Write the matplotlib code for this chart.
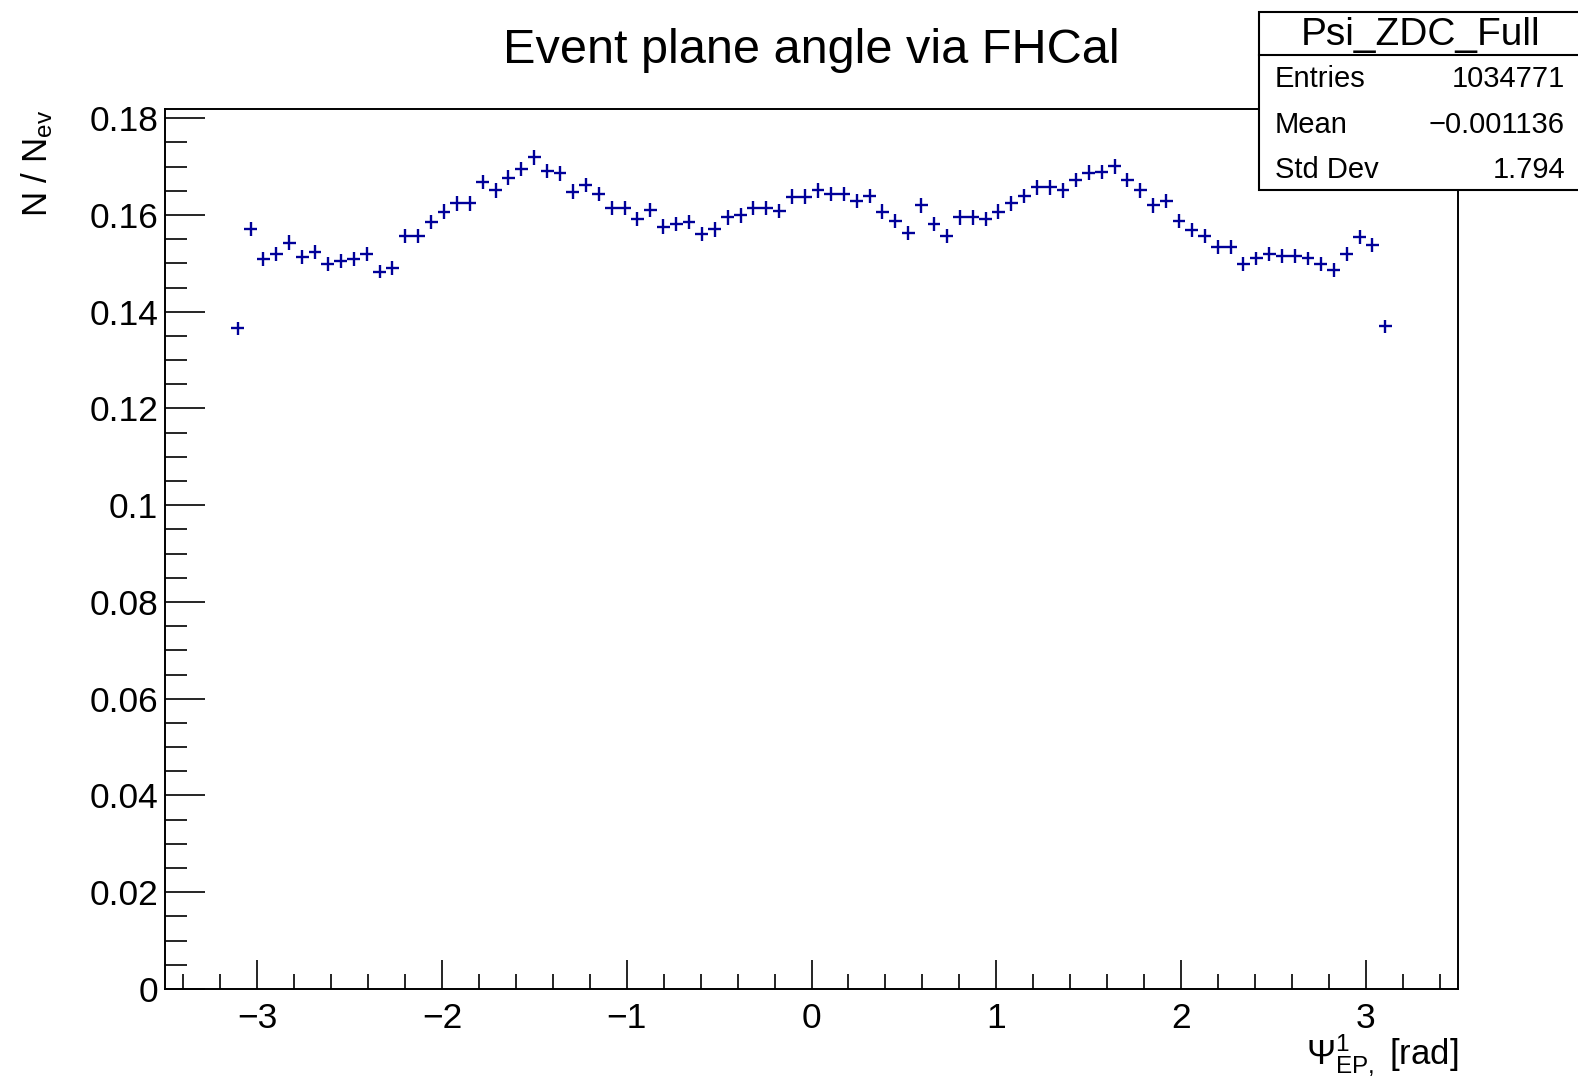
import numpy as np
import matplotlib.pyplot as plt
from matplotlib.patches import Rectangle
from matplotlib.lines import Line2D
from matplotlib.ticker import MultipleLocator, FormatStrFormatter

plt.rcParams['font.family'] = ['Liberation Sans', 'DejaVu Sans']
plt.rcParams['mathtext.fontset'] = 'custom'
plt.rcParams['mathtext.rm'] = 'Liberation Sans'
plt.rcParams['mathtext.it'] = 'Liberation Sans:italic'
plt.rcParams['mathtext.bf'] = 'Liberation Sans:bold'

# normalised event plane angle distribution, 90 bins over [-pi, pi]
psi_counts = [
    0.1366, 0.1571, 0.1508, 0.1519, 0.1543, 0.1514, 0.1523, 0.1498, 0.1505, 0.1508,
    0.1519, 0.1483, 0.1490, 0.1556, 0.1556, 0.1586, 0.1607, 0.1624, 0.1624, 0.1668,
    0.1651, 0.1677, 0.1695, 0.1719, 0.1691, 0.1686, 0.1648, 0.1662, 0.1643, 0.1614,
    0.1614, 0.1591, 0.1610, 0.1576, 0.1581, 0.1586, 0.1561, 0.1570, 0.1595, 0.1599,
    0.1614, 0.1614, 0.1608, 0.1638, 0.1638, 0.1651, 0.1643, 0.1643, 0.1629, 0.1639,
    0.1607, 0.1588, 0.1562, 0.1620, 0.1581, 0.1556, 0.1595, 0.1595, 0.1591, 0.1607,
    0.1624, 0.1639, 0.1657, 0.1657, 0.1651, 0.1672, 0.1687, 0.1689, 0.1701, 0.1672,
    0.1651, 0.1620, 0.1629, 0.1588, 0.1569, 0.1556, 0.1534, 0.1534, 0.1498, 0.1510,
    0.1519, 0.1515, 0.1515, 0.1510, 0.1498, 0.1486, 0.1519, 0.1555, 0.1538, 0.1370,
]
n_bins = 90
hist_name = 'Psi_ZDC_Full'
entries = 1034771
mean_text = '\u22120.001136'
std_text = '1.794'

edges = np.linspace(-np.pi, np.pi, n_bins + 1)
centers = 0.5 * (edges[1:] + edges[:-1])
half_width = 0.5 * np.diff(edges)
vals = np.array(psi_counts)
n_ev = entries / vals.sum()
errs = np.sqrt(vals / n_ev)   # poisson errors after normalisation

W, H = 1578, 1076
fig = plt.figure(figsize=(W / 100, H / 100), dpi=100)
ax = fig.add_axes([165 / W, 1 - 989 / H, (1458 - 165) / W, (989 - 109) / H])

ax.errorbar(centers, vals, xerr=half_width, yerr=errs, fmt='none',
            ecolor='#000099', elinewidth=1.7, capsize=0)

ax.set_xlim(-3.5, 3.5)
ax.set_ylim(0, 0.1819)
ax.xaxis.set_major_locator(MultipleLocator(1))
ax.xaxis.set_minor_locator(MultipleLocator(0.2))
ax.yaxis.set_major_locator(MultipleLocator(0.02))
ax.yaxis.set_minor_locator(MultipleLocator(0.005))
ax.yaxis.set_major_formatter(FormatStrFormatter('%g'))

ax.tick_params(axis='both', which='both', direction='in', width=1.2,
               top=False, right=False, labelsize=25.5)
ax.tick_params(axis='x', which='major', length=21, pad=9)
ax.tick_params(axis='x', which='minor', length=11)
ax.tick_params(axis='y', which='major', length=29, pad=5)
ax.tick_params(axis='y', which='minor', length=16)
for sp in ax.spines.values():
    sp.set_linewidth(1.4)

fig.text(811.5 / W, 1 - 63 / H, 'Event plane angle via FHCal',
         ha='center', va='baseline', fontsize=35)
fig.text(1458 / W, 1 - 1064 / H, r'$\Psi^{1}_{\mathrm{EP,}}$ [rad]',
         ha='right', va='baseline', fontsize=25)
fig.text(37 / W, 1 - 110 / H, r'N / N$_{\mathrm{ev}}$', rotation=90,
         ha='center', va='top', fontsize=25)

# stats box
x0, y_top, y_bot, y_sep = 1259, 11.7, 190, 55
fig.add_artist(Rectangle((x0 / W, 1 - y_bot / H), (W - x0 + 10) / W, (y_bot - y_top) / H,
                         transform=fig.transFigure, facecolor='white',
                         edgecolor='black', lw=1.5, zorder=5))
fig.add_artist(Line2D([x0 / W, 1], [1 - y_sep / H] * 2, transform=fig.transFigure,
                      color='black', lw=1.5, zorder=6))
fig.text(1421 / W, 1 - 45 / H, hist_name, ha='center', va='baseline',
         fontsize=28, zorder=7)
rows = [('Entries', str(entries)), ('Mean', mean_text), ('Std Dev', std_text)]
for i, (label, value) in enumerate(rows):
    yb = 1 - (87.3 + 45.5 * i) / H
    fig.text(1275 / W, yb, label, ha='left', va='baseline', fontsize=21, zorder=7)
    fig.text(1565 / W, yb, value, ha='right', va='baseline', fontsize=21, zorder=7)

fig.savefig('out.png', dpi=100)
